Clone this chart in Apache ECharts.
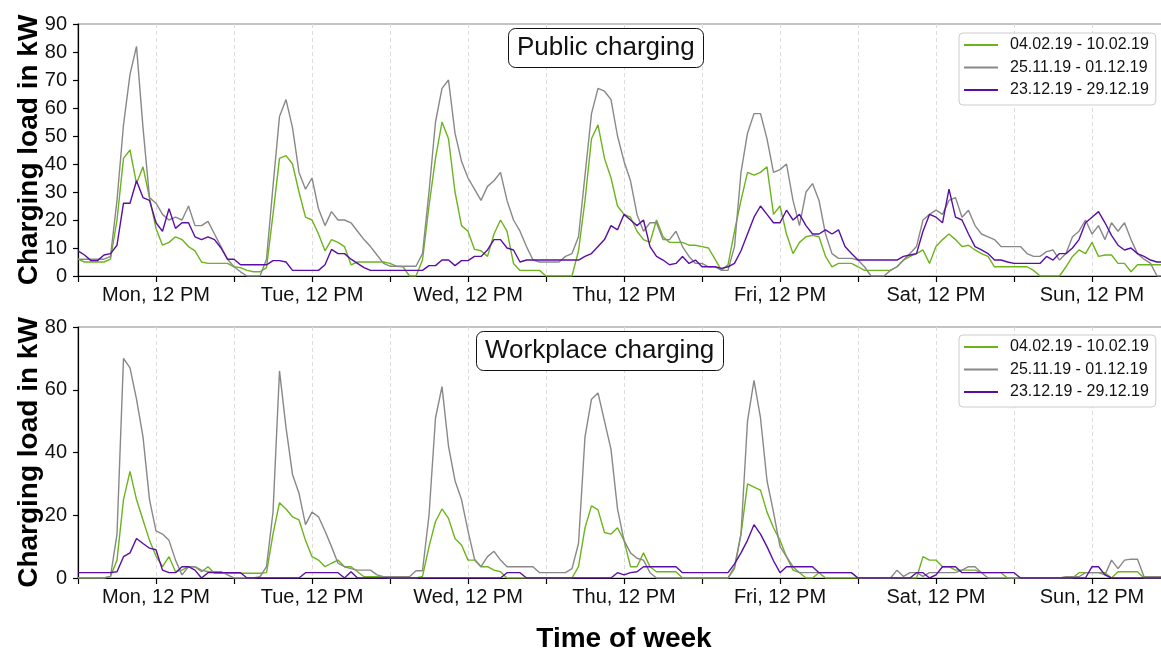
<!DOCTYPE html>
<html>
<head>
<meta charset="utf-8">
<title>Charging load</title>
<script src="https://cdn.jsdelivr.net/npm/echarts@6/dist/echarts.min.js"></script>
<style>
  html, body { margin: 0; padding: 0; background: #fff; }
  #chart { width: 1161px; height: 651px; }
</style>
</head>
<body>
<div id="chart"></div>
<script>
// hours since Monday 00:00, one value per hour
const hours = Array.from({ length: 169 }, (_, i) => i)
const dayLabels = ['Mon, 12 PM', 'Tue, 12 PM', 'Wed, 12 PM', 'Thu, 12 PM', 'Fri, 12 PM', 'Sat, 12 PM', 'Sun, 12 PM']
const weekNames = ['04.02.19 - 10.02.19', '25.11.19 - 01.12.19', '23.12.19 - 29.12.19']
const weekColors = ['#6cb41c', '#888888', '#5b0ea3']

// public charging (kW)
const pubGreen = [
  6, 5, 5, 5, 5, 6, 20, 42, 45, 33, 39, 28,
  17, 11, 12, 14, 13, 10.5, 9, 5, 4.5, 4.5, 4.5, 4.5,
  3.3, 3, 2, 1.5, 1.5, 3, 22, 42, 43, 40, 30, 21,
  20, 15, 9, 13, 12, 10.5, 4, 5, 5, 5, 5, 5,
  4.5, 3.5, 3.3, 0, 0, 5.7, 25, 42, 55, 49, 30, 18,
  16, 9.5, 9, 7, 15, 20, 16, 4.5, 2, 2, 2, 2,
  0, 0, 0, 0, 0, 9, 27, 49, 54, 42, 35, 25,
  22, 21, 16, 13, 12, 20, 14, 12, 12, 12, 11, 11,
  10.5, 10, 6, 2, 4, 16, 27, 37, 36, 37, 39, 22,
  25, 15, 8, 12, 14, 14.5, 14, 7, 3.3, 4.5, 4.5, 4.5,
  3.3, 2, 2, 2, 2, 2, 3.3, 5.7, 7, 8, 9.3, 4.5,
  10.5, 13, 15, 13, 10.5, 11, 9.3, 8, 7, 3.3, 3.3, 3.3,
  3.3, 3.3, 3.3, 2, 0, 0, 0, 0, 3.3, 7, 9.3, 8,
  12, 7, 7.5, 7.5, 4.5, 4.5, 1.5, 4, 4, 4, 4, 4, 4
]
const pubGray = [
  6, 6, 6, 6, 6, 7, 27, 54, 72, 82, 53, 28,
  26, 22, 20, 21, 20, 25, 18, 18, 19.5, 15, 10.5, 6,
  3.3, 1.5, 0, 0, 0, 6, 32, 57, 63, 53, 37, 31,
  35, 24, 18, 23, 20, 20, 19, 16, 13, 10.5, 7.5, 4.5,
  3.5, 3.5, 3.5, 3.5, 3.5, 8, 30, 55, 67, 70, 51, 41,
  35, 31, 27, 32, 34, 37, 27, 20, 16, 10.5, 5.7, 5,
  5, 5, 5, 7, 8, 14, 36, 58, 67, 66, 63, 50,
  41, 34, 22, 16, 19, 19, 13, 13, 16, 10.5, 7, 4.5,
  4.5, 3.3, 3.3, 2, 2, 10.5, 37, 51, 58, 58, 49, 37,
  38, 40, 27, 18, 30, 33, 27, 15, 8, 6.3, 6.3, 6.3,
  5.7, 3.3, 0, 0, 0, 2, 3.3, 5.7, 8, 10.5, 20, 22,
  23.5, 22, 27, 28, 21, 23.5, 18, 15, 14, 13, 10.5, 10.5,
  10.5, 10.5, 8, 7, 7, 8.7, 9.3, 5.7, 8, 14, 16, 20,
  15, 18, 13, 19, 16, 19, 13, 8, 6, 4.5, 0, 0, 0
]
const pubPurple = [
  9, 7.5, 5.5, 5.5, 7.5, 8, 11, 26, 26, 34, 28, 27,
  19, 16, 24, 17, 19, 19, 14, 13, 14, 13, 10, 6,
  6, 4, 4, 4, 4, 4, 5.5, 5.5, 5, 2, 2, 2,
  2, 2, 4, 9.5, 8, 8, 6, 4.5, 3, 2, 2, 2,
  2, 2, 2, 2, 2, 2, 3.7, 3.7, 5.7, 5.7, 3.7, 5.5,
  5.5, 7, 7, 9.3, 13, 13, 10, 9.3, 5, 5.7, 5.7, 5.7,
  5.7, 5.7, 5.7, 5.7, 5.7, 5.7, 7, 8, 10.5, 13, 18, 16.5,
  22, 20, 18, 20, 10.5, 7, 5.7, 4, 4.5, 7, 4.5, 5.7,
  3.3, 3.3, 3.3, 2.7, 3.3, 4.5, 9, 15, 21, 25, 22, 19,
  19, 23.5, 20, 22, 18, 15, 15, 16.5, 15, 16.5, 10.5, 8,
  5.7, 5.7, 5.7, 5.7, 5.7, 5.7, 5.7, 7, 7.5, 8, 16, 22,
  21, 19, 31, 21, 20, 15, 10.5, 9.3, 8, 5.7, 5.7, 5,
  4.5, 4.5, 4.5, 4.5, 4.5, 7, 5.7, 8, 8, 10, 13, 19,
  21, 23, 19, 14.5, 11, 9.3, 10, 8, 7, 5.7, 5, 5, 5
]

// workplace charging (kW)
const wpGreen = [
  0, 0, 0, 0, 0, 0.5, 5.7, 25, 34, 25, 18.5, 12,
  7, 3.6, 6.8, 2, 2.5, 3.6, 3.6, 2, 3.6, 1.5, 1.5, 1.5,
  1.5, 1.5, 1.5, 1.5, 1.5, 1.7, 14, 24, 22, 19.5, 18.5, 12,
  6.8, 5.7, 3.6, 4.7, 5.7, 3.6, 3.6, 2, 0.4, 0.4, 0.4, 0.4,
  0, 0, 0, 0, 0, 0.5, 10, 18, 22, 19, 12.6, 10.5,
  5.7, 5.7, 3.6, 3.6, 2.5, 2, 0, 0, 0, 0, 0, 0,
  0, 0, 0, 0, 0, 3.6, 16, 23, 21.7, 14.5, 14, 16,
  12, 3.6, 3.6, 8, 3.6, 2, 2, 2, 2, 0, 0, 0,
  0, 0, 0, 0, 0, 3, 14, 30, 29, 28, 21, 16,
  12, 6.8, 2.5, 1.7, 0, 0, 1.7, 0, 0, 0, 0, 0,
  0, 0, 0, 0, 0, 0, 0, 0, 0, 0, 6.8, 5.7,
  5.7, 3.6, 3.6, 2.5, 2.5, 2.5, 2.5, 1.7, 1.7, 1.7, 1.7, 0,
  0, 0, 0, 0, 0, 0, 0, 0, 0, 0, 1.7, 1.7,
  1.7, 1.7, 1.7, 0, 2, 2, 2, 2, 0, 0, 0, 0, 0
]
const wpGray = [
  0, 0, 0, 0, 0, 0.5, 14, 70, 67, 57, 45, 25,
  15, 14, 12, 5.7, 1, 3.6, 3.6, 2.5, 2, 2, 2, 1,
  0, 0, 0, 0, 0.4, 3.6, 21, 66, 48, 33, 27, 17,
  21, 19.5, 15, 10, 4.7, 3.6, 3, 2.5, 2.5, 2.5, 1, 0.4,
  0.4, 0.4, 0.4, 0.4, 2.3, 2.3, 20, 51, 61, 42, 31, 25,
  15, 6, 3.6, 6.8, 8.5, 5.7, 3.6, 3.6, 3.6, 3.6, 3.6, 1.7,
  1.7, 1.7, 1.7, 1.7, 3, 11, 45, 57, 59, 50, 41, 22,
  12, 8, 6.3, 5.7, 1.7, 0, 0, 0, 0, 0, 0, 0,
  0, 0, 0, 0, 0, 3.6, 14, 50, 63, 51, 31, 21,
  10, 6.8, 3.6, 1.7, 1.7, 1.7, 1.7, 1.7, 1.7, 1.7, 1.7, 1.7,
  0, 0, 0, 0, 0, 0, 2.5, 0.5, 1.7, 1.7, 0.5, 1.7,
  1.7, 1.7, 1.7, 1.7, 2.5, 3.6, 3.6, 1.7, 0, 0, 0, 0,
  0, 0, 0, 0, 0, 0, 0, 0, 0.4, 0.4, 0.4, 1.7,
  1.7, 1.7, 1, 5.7, 3, 5.7, 6, 6, 0.4, 0.4, 0.4, 0.4, 0.4
]
const wpPurple = [
  1.7, 1.7, 1.7, 1.7, 1.7, 1.7, 2, 6.8, 8, 12.6, 11, 9.5,
  9, 2.5, 1.7, 1.7, 3.6, 3.6, 2.5, 0, 1.7, 1.7, 1.7, 1.7,
  1.7, 1.7, 0, 0, 0, 0, 0, 0, 0, 0, 0, 1.7,
  1.7, 1.7, 1.7, 1.7, 1.7, 0, 2, 0, 0, 0, 0, 0,
  0, 0, 0, 0, 0, 0, 0, 0, 0, 0, 0, 0,
  0, 0, 0, 0, 0, 0, 1.7, 1.7, 1.7, 0, 0, 0,
  0, 0, 0, 0, 0, 0, 0, 0, 0, 0, 0, 1.7,
  1, 1.7, 2, 3.6, 3.6, 3.6, 3.6, 3.6, 3.6, 1.7, 1.7, 1.7,
  1.7, 1.7, 1.7, 1.7, 1.7, 4.5, 8, 12, 17, 14, 10, 5.5,
  1.7, 3.6, 3.6, 3.6, 3.6, 3.6, 1.7, 1.7, 1.7, 1.7, 1.7, 1.7,
  0, 0, 0, 0, 0, 0, 0, 0, 0, 1.7, 1.7, 0,
  1, 3.6, 3.6, 3.6, 1.7, 1.7, 1.7, 1.7, 1.7, 1.7, 1.7, 1.7,
  1.7, 0, 0, 0, 0, 0, 0, 0, 0, 0, 0, 0,
  3.6, 3.6, 1, 0, 0, 0, 0, 0, 0, 0, 0, 0, 0
]

const FONT = '"Liberation Sans", Arial, sans-serif'

function pairs (vals) {
  return hours.map((h, i) => [h, vals[i]])
}

function xAxisFor (gridIndex, withName) {
  return {
    type: 'value',
    gridIndex: gridIndex,
    min: 0,
    max: 168,
    interval: 12,
    name: withName ? 'Time of week' : '',
    nameLocation: 'middle',
    nameGap: 47,
    nameMoveOverlap: false,
    nameTextStyle: { fontFamily: FONT, fontSize: 28, fontWeight: 'bold', color: '#000' },
    axisLine: { lineStyle: { color: '#000', width: 1.2 } },
    axisTick: { length: 6, lineStyle: { color: '#000', width: 1.2 } },
    axisLabel: {
      fontFamily: FONT,
      fontSize: 20,
      color: '#111',
      margin: 9,
      formatter: function (v) {
        return v % 24 === 12 ? dayLabels[(v - 12) / 24] : ''
      }
    },
    splitLine: { show: true, lineStyle: { color: '#dcdcdc', type: [4, 3], width: 1 } }
  }
}

function yAxisFor (gridIndex, max, interval) {
  return {
    type: 'value',
    gridIndex: gridIndex,
    min: 0,
    max: max,
    interval: interval,
    name: 'Charging load in kW',
    nameLocation: 'middle',
    nameGap: 35,
    nameMoveOverlap: false,
    nameTextStyle: { fontFamily: FONT, fontSize: 28, fontWeight: 'bold', color: '#000' },
    axisLine: { show: true, lineStyle: { color: '#000', width: 1.2 } },
    axisTick: { show: true, length: 5, lineStyle: { color: '#000', width: 1.2 } },
    axisLabel: { fontFamily: FONT, fontSize: 20, color: '#111', margin: 11 },
    splitLine: { show: false }
  }
}

function legendFor (top) {
  return {
    orient: 'vertical',
    left: 959,
    top: top,
    data: weekNames,
    icon: 'rect',
    itemWidth: 34,
    itemHeight: 2,
    itemGap: 4.5,
    padding: [3, 7, 6, 5],
    borderColor: '#cccccc',
    borderWidth: 1,
    borderRadius: 4,
    backgroundColor: 'rgba(255,255,255,0.85)',
    textStyle: { fontFamily: FONT, fontSize: 16, color: '#111', lineHeight: 18, padding: [0, 0, 0, 7] }
  }
}

function boxTitle (text, left, top) {
  return {
    text: text,
    left: left,
    top: top,
    padding: [5, 9],
    borderColor: '#111',
    borderWidth: 1,
    borderRadius: 7,
    backgroundColor: '#fff',
    textStyle: { fontFamily: FONT, fontSize: 26, fontWeight: 'normal', color: '#111', lineHeight: 30 }
  }
}

const series = []
const panels = [[pubGreen, pubGray, pubPurple], [wpGreen, wpGray, wpPurple]]
panels.forEach(function (sets, p) {
  sets.forEach(function (vals, k) {
    series.push({
      name: weekNames[k],
      type: 'line',
      xAxisIndex: p,
      yAxisIndex: p,
      data: pairs(vals),
      showSymbol: false,
      symbol: 'none',
      color: weekColors[k],
      lineStyle: { width: 1.4, color: weekColors[k] }
    })
  })
})

const chart = echarts.init(document.getElementById('chart'), null, { renderer: 'canvas' })
chart.setOption({
  animation: false,
  backgroundColor: '#fff',
  title: [
    boxTitle('Public charging', 508, 28),
    boxTitle('Workplace charging', 476, 331)
  ],
  legend: [legendFor(33), legendFor(335)],
  grid: [
    { left: 78, top: 24, width: 1092, height: 252, show: true, borderColor: '#888', borderWidth: 1.2, outerBoundsMode: 'none' },
    { left: 78, top: 327, width: 1092, height: 251, show: true, borderColor: '#888', borderWidth: 1.2, outerBoundsMode: 'none' }
  ],
  xAxis: [xAxisFor(0, false), xAxisFor(1, true)],
  yAxis: [yAxisFor(0, 90, 10), yAxisFor(1, 80, 20)],
  series: series
})
</script>
</body>
</html>
